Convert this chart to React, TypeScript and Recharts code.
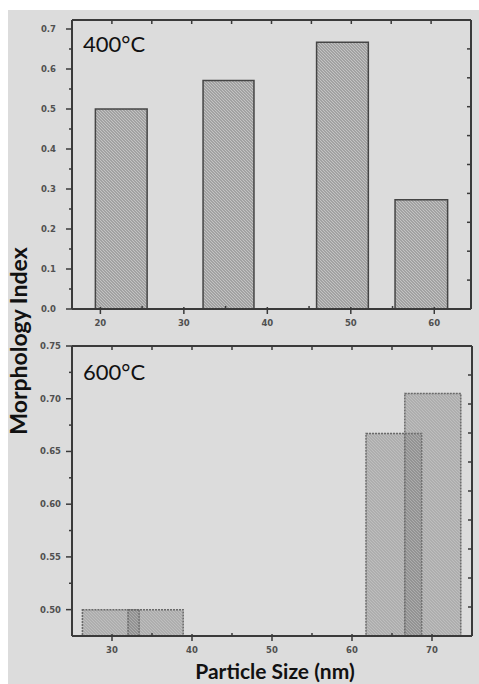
import React from 'react';
import { ComposedChart, XAxis, YAxis, ReferenceArea, Scatter } from 'recharts';

// ---- data ----
const topBinStart = [19.4, 32.3, 45.9, 55.3];
const topBinEnd = [25.6, 38.4, 52.1, 61.6];
const topValues = [0.5, 0.571, 0.667, 0.273];

const bottomBinStart = [26.3, 32.0, 61.75, 66.6];
const bottomBinEnd = [33.4, 38.9, 68.7, 73.6];
const bottomValues = [0.5, 0.5, 0.667, 0.705];

const topXMajor = [20, 30, 40, 50, 60];
const topXMinor = [25, 35, 45, 55];
const topYMajor = [0, 0.1, 0.2, 0.3, 0.4, 0.5, 0.6, 0.7];
const topYMinor = [0.05, 0.15, 0.25, 0.35, 0.45, 0.55, 0.65];

const bottomXMajor = [30, 40, 50, 60, 70];
const bottomXMinor = [35, 45, 55, 65];
const bottomYMajor = [0.5, 0.55, 0.6, 0.65, 0.7, 0.75];
const bottomYMinor = [0.525, 0.575, 0.625, 0.675, 0.725];

const frameTicks = [1, 2, 3, 4, 5, 6, 7, 8, 9];

const topXDomain = [16.6, 64.4];
const topYDomain = [0, 0.7225];
const bottomXDomain = [25, 75];
const bottomYDomain = [0.475, 0.75];

const AXIS = '#3a3a3a';
const TICK_TXT = '#505050';
const tickFont = { fontFamily: 'DejaVu Sans', fontWeight: 700, fontSize: 8.5 } as const;

const isIn = (arr: number[], v: number) => arr.some((a) => Math.abs(a - v) < 1e-6);

const BottomTick = (props: any, majors: number[]) => {
  const { x, y, payload } = props;
  const v = payload.value;
  if (isIn(majors, v)) {
    return (
      <g>
        <line x1={x} x2={x} y1={y - 2} y2={y + 5} stroke={AXIS} strokeWidth={1.5} />
        <text x={x} y={y + 17} textAnchor="middle" fill={TICK_TXT} style={tickFont}>
          {v}
        </text>
      </g>
    );
  }
  return <line x1={x} x2={x} y1={y} y2={y - 3} stroke={AXIS} strokeWidth={1.5} />;
};

const LeftTick = (props: any, majors: number[], decimals: number, gap: number) => {
  const { x, y, payload } = props;
  const v = payload.value;
  if (isIn(majors, v)) {
    return (
      <g>
        <line x1={x - 6} x2={x} y1={y} y2={y} stroke={AXIS} strokeWidth={1.5} />
        <text x={x - 6 - gap} y={y + 3} textAnchor="end" fill={TICK_TXT} style={tickFont}>
          {Number(v).toFixed(decimals)}
        </text>
      </g>
    );
  }
  return <line x1={x - 3} x2={x} y1={y} y2={y} stroke={AXIS} strokeWidth={1.5} />;
};

const TopTick = (props: any) => {
  const { x, y } = props;
  return <line x1={x} x2={x} y1={y} y2={y + 4} stroke={AXIS} strokeWidth={1.5} />;
};

const RightTick = (props: any) => {
  const { x, y } = props;
  return <line x1={x} x2={x - 4} y1={y} y2={y} stroke={AXIS} strokeWidth={1.5} />;
};

const Panel = ({
  width,
  height,
  margin,
  xDomain,
  yDomain,
  xMajor,
  xMinor,
  yMajor,
  yMinor,
  decimals,
  labelGap,
  starts,
  ends,
  values,
  fill,
  fillOpacity,
  stroke,
  strokeDash,
}: any) => {
  const data = values.map((v: number, i: number) => ({ x: (starts[i] + ends[i]) / 2, y: v, f: 5 }));
  return (
    <ComposedChart width={width} height={height} margin={margin} data={data}>
      <XAxis
        xAxisId="main"
        dataKey="x"
        type="number"
        domain={xDomain}
        ticks={[...xMajor, ...xMinor].sort((a, b) => a - b)}
        interval={0}
        allowDataOverflow
        height={20}
        tickSize={0}
        tickMargin={0}
        tickLine={false}
        axisLine={{ stroke: AXIS, strokeWidth: 2 }}
        tick={(p: any) => BottomTick(p, xMajor)}
      />
      <XAxis
        xAxisId="top"
        dataKey="f"
        orientation="top"
        type="number"
        domain={[0, 10]}
        ticks={frameTicks}
        interval={0}
        allowDataOverflow
        height={1}
        tickSize={0}
        tickMargin={0}
        tickLine={false}
        axisLine={{ stroke: AXIS, strokeWidth: 2 }}
        tick={TopTick}
      />
      <YAxis
        yAxisId="left"
        dataKey="y"
        type="number"
        domain={yDomain}
        ticks={[...yMajor, ...yMinor].sort((a, b) => a - b)}
        interval={0}
        allowDataOverflow
        width={72}
        tickSize={0}
        tickMargin={0}
        tickLine={false}
        axisLine={{ stroke: AXIS, strokeWidth: 2 }}
        tick={(p: any) => LeftTick(p, yMajor, decimals, labelGap)}
      />
      <YAxis
        yAxisId="right"
        dataKey="f"
        orientation="right"
        type="number"
        domain={[0, 10]}
        ticks={frameTicks}
        interval={0}
        allowDataOverflow
        width={1}
        tickSize={0}
        tickMargin={0}
        tickLine={false}
        axisLine={{ stroke: AXIS, strokeWidth: 2 }}
        tick={RightTick}
      />
      <Scatter xAxisId="main" yAxisId="left" dataKey="y" isAnimationActive={false} shape={() => <g />} />
      <Scatter xAxisId="top" yAxisId="right" dataKey="f" isAnimationActive={false} shape={() => <g />} />
      {values.map((v: number, i: number) => (
        <ReferenceArea
          key={i}
          xAxisId="main"
          yAxisId="left"
          x1={starts[i]}
          x2={ends[i]}
          y1={yDomain[0]}
          y2={v}
          fill={fill}
          fillOpacity={fillOpacity}
          stroke={stroke}
          strokeWidth={1.5}
          strokeDasharray={strokeDash}
          ifOverflow="visible"
        />
      ))}
    </ComposedChart>
  );
};

export default function App() {
  return (
    <div style={{ position: 'absolute', left: 0, top: 0, width: 479, height: 684, background: '#ffffff', overflow: 'hidden' }}>
      <svg width={0} height={0} style={{ position: 'absolute' }}>
        <defs>
          <pattern id="hatchTop" patternUnits="userSpaceOnUse" width={3} height={3}>
            <rect x={0} y={0} width={3} height={3} fill="#a2a2a2" />
            <path d="M-1,-1 L4,4 M-1,2 L1,4 M2,-1 L4,1" stroke="#cbcbcb" strokeWidth={0.8} />
          </pattern>
          <pattern id="hatchBot" patternUnits="userSpaceOnUse" width={3} height={3}>
            <rect x={0} y={0} width={3} height={3} fill="#6e6e6e" />
            <path d="M-1,-1 L4,4 M-1,2 L1,4 M2,-1 L4,1" stroke="#a0a0a0" strokeWidth={0.8} />
          </pattern>
        </defs>
      </svg>
      <div style={{ position: 'absolute', left: 8, top: 10, width: 471, height: 674, background: '#dcdcdc' }} />
      <div style={{ position: 'absolute', left: 0, top: 0 }}>
        <Panel
          width={479}
          height={340}
          margin={{ top: 19, right: 7, bottom: 11, left: 0 }}
          xDomain={topXDomain}
          yDomain={topYDomain}
          xMajor={topXMajor}
          xMinor={topXMinor}
          yMajor={topYMajor}
          yMinor={topYMinor}
          decimals={1}
          labelGap={10}
          starts={topBinStart}
          ends={topBinEnd}
          values={topValues}
          fill="url(#hatchTop)"
          fillOpacity={1}
          stroke="#454545"
        />
      </div>
      <div style={{ position: 'absolute', left: 0, top: 330 }}>
        <Panel
          width={479}
          height={330}
          margin={{ top: 15, right: 6, bottom: 4, left: 0 }}
          xDomain={bottomXDomain}
          yDomain={bottomYDomain}
          xMajor={bottomXMajor}
          xMinor={bottomXMinor}
          yMajor={bottomYMajor}
          yMinor={bottomYMinor}
          decimals={2}
          labelGap={5}
          starts={bottomBinStart}
          ends={bottomBinEnd}
          values={bottomValues}
          fill="url(#hatchBot)"
          fillOpacity={0.42}
          stroke="#6a6a6a"
          strokeDash="2 1"
        />
      </div>
      <svg width={479} height={684} style={{ position: 'absolute', left: 0, top: 0, pointerEvents: 'none' }}>
        <text x={83} y={52} style={{ fontFamily: 'Lato', fontSize: 22, fill: '#111' }}>400°C</text>
        <text x={83} y={380} style={{ fontFamily: 'Lato', fontSize: 22, fill: '#111' }}>600°C</text>
        <text
          transform="translate(27,341) rotate(-90)"
          textAnchor="middle"
          style={{ fontFamily: 'Lato', fontWeight: 700, fontSize: 23, fill: '#111' }}
        >
          Morphology Index
        </text>
        <text
          x={275}
          y={679}
          textAnchor="middle"
          style={{ fontFamily: 'Lato', fontWeight: 700, fontSize: 21, fill: '#111' }}
        >
          Particle Size (nm)
        </text>
      </svg>
    </div>
  );
}
